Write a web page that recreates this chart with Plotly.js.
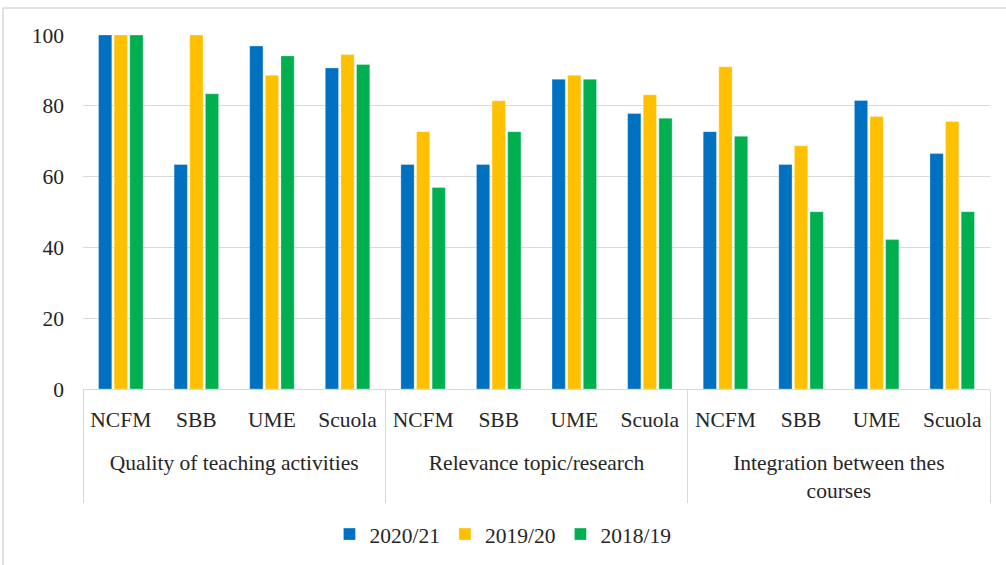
<!DOCTYPE html>
<html>
<head>
<meta charset="utf-8">
<script src="https://cdn.plot.ly/plotly-3.0.1.min.js"></script>
<style>html,body{margin:0;padding:0;background:#fff;}#chart{width:1006px;height:565px;}</style>
</head>
<body>
<div id="chart"></div>
<script>
const groups = ["Quality of teaching activities", "Relevance topic/research", "Integration between thes<br>courses"];
const units = ["NCFM", "SBB", "UME", "Scuola"];
const seriesNames = ["2020/21", "2019/20", "2018/19"];
const colors = ["#0070C0", "#FFC000", "#00B050"];
const v2021 = [100, 63.4, 96.9, 90.7, 63.4, 63.4, 87.5, 77.8, 72.7, 63.4, 81.5, 66.5];
const v1920 = [100, 100, 88.6, 94.5, 72.7, 81.4, 88.6, 83.1, 91.0, 68.7, 77.0, 75.6];
const v1819 = [100, 83.4, 94.1, 91.7, 56.9, 72.7, 87.5, 76.5, 71.4, 50.1, 42.2, 50.1];
const values = [v2021, v1920, v1819];

const xGroups = [], xUnits = [];
groups.forEach(g => units.forEach(u => { xGroups.push(g); xUnits.push(u + "<br> "); }));

const traces = values.map((vals, i) => ({
  type: "bar",
  name: seriesNames[i],
  x: [xGroups, xUnits],
  y: vals,
  marker: {color: colors[i], line: {color: "rgba(255,255,255,0.6)", width: 0.5}},
  hoverinfo: "skip"
}));

const font = {family: "'Liberation Serif', serif", size: 21.5, color: "#262626"};

const layout = {
  width: 1006, height: 565,
  margin: {l: 83, r: 16, t: 35, b: 176, autoexpand: false},
  paper_bgcolor: "#fff", plot_bgcolor: "#fff",
  font: font,
  barmode: "group",
  bargap: 0.38,
  bargroupgap: 0.15,
  showlegend: true,
  legend: {orientation: "h", x: 0.463, xanchor: "center", y: -0.41, yanchor: "middle", font: font, traceorder: "normal"},
  xaxis: {
    type: "multicategory",
    showline: true, linecolor: "#d9d9d9", linewidth: 1,
    showgrid: false, automargin: false,
    ticks: "", showdividers: true, dividercolor: "#d9d9d9", dividerwidth: 1,
    tickfont: font, ticklabelstandoff: 11
  },
  yaxis: {
    range: [0, 100], dtick: 20, tick0: 0,
    showgrid: true, gridcolor: "#d9d9d9", gridwidth: 1,
    zeroline: false, showline: false, ticks: "", automargin: false,
    tickfont: font, ticklabelstandoff: 18
  },
  shapes: [{type: "rect", xref: "paper", yref: "paper", x0: -0.0882, x1: 1.05, y0: -1.2, y1: 1.076, line: {color: "#d9d9d9", width: 1.5}, fillcolor: "rgba(0,0,0,0)", layer: "below"}]
};

Plotly.newPlot("chart", traces, layout, {displayModeBar: false, staticPlot: true});
</script>
</body>
</html>
